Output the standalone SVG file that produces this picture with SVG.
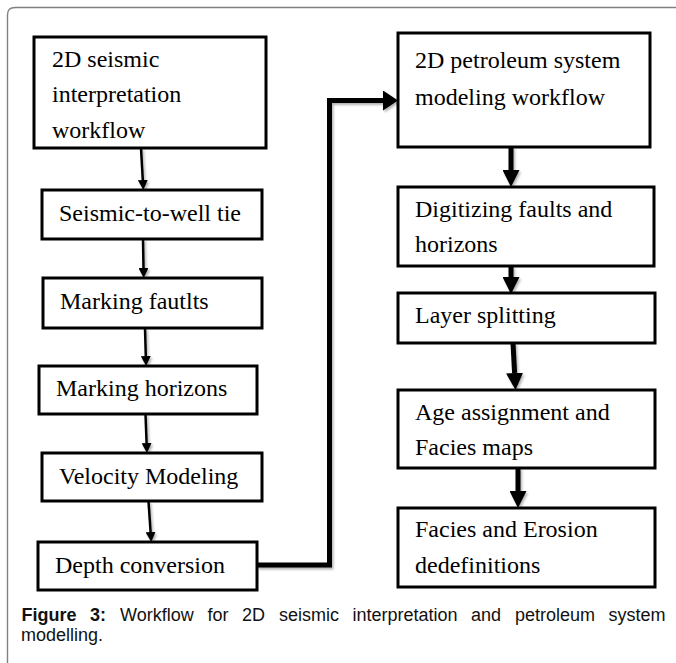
<svg xmlns="http://www.w3.org/2000/svg" width="676" height="663" viewBox="0 0 676 663">
<defs>
<style>
.box{fill:#fff;stroke:#000;stroke-width:3}
.lbl{font-family:"Liberation Serif","Times New Roman",serif;font-size:24px;fill:#000}
.cap{font-family:"Liberation Sans",Arial,sans-serif;font-size:18px;fill:#111}
.thin{fill:none;stroke:#000;stroke-width:2.5}
.thick{fill:none;stroke:#000;stroke-width:5}
</style>
<marker id="hThin" markerUnits="userSpaceOnUse" viewBox="0 0 10 10" markerWidth="10" markerHeight="10" refX="0" refY="5" orient="auto"><path d="M0,0 L10,5 L0,10 z" fill="#000"/></marker>
<marker id="hThick" markerUnits="userSpaceOnUse" viewBox="0 0 17 17" markerWidth="17" markerHeight="17" refX="0" refY="8.5" orient="auto"><path d="M0,0 L17,8.5 L0,17 z" fill="#000"/></marker>
<marker id="hMain" markerUnits="userSpaceOnUse" viewBox="0 0 15 20" markerWidth="15" markerHeight="20" refX="0" refY="10" orient="auto"><path d="M0,0 L15,10 L0,20 z" fill="#000"/></marker>
<filter id="sh" x="-20%" y="-20%" width="140%" height="140%"><feDropShadow dx="1.5" dy="2" stdDeviation="1.2" flood-color="#000" flood-opacity="0.3"/></filter>
</defs>
<rect width="676" height="663" fill="#fff"/>
<path d="M7.5,663 V15 Q7.5,7.5 15,7.5 H676" fill="none" stroke="#808080" stroke-width="1.4"/>

<g id="connectors" filter="url(#sh)">
<path class="thin" d="M141,148 L142.8,180" marker-end="url(#hThin)"/>
<path class="thin" d="M143,239 L143.5,268" marker-end="url(#hThin)"/>
<path class="thin" d="M145,328 L145.8,356" marker-end="url(#hThin)"/>
<path class="thin" d="M145.5,414 L146.6,443" marker-end="url(#hThin)"/>
<path class="thin" d="M148.5,501 L150.6,532" marker-end="url(#hThin)"/>
<path class="thick" d="M257,565 H329.5 V100.5 H383" marker-end="url(#hMain)"/>
<path class="thick" d="M511,147 V170" marker-end="url(#hThick)"/>
<path class="thick" d="M511,266 V277" marker-end="url(#hThick)"/>
<path class="thick" d="M513,343 L514.6,373" marker-end="url(#hThick)"/>
<path class="thick" d="M518,468 V491" marker-end="url(#hThick)"/>
</g>

<g id="n1"><rect class="box" x="34" y="37" width="232" height="111"/><text class="lbl" x="52" y="67">2D seismic</text><text class="lbl" x="52" y="102">interpretation</text><text class="lbl" x="52" y="138">workflow</text></g>
<g id="n2"><rect class="box" x="42" y="190" width="220" height="49"/><text class="lbl" x="59" y="221">Seismic-to-well tie</text></g>
<g id="n3"><rect class="box" x="43" y="278" width="219" height="50"/><text class="lbl" x="60" y="309">Marking fautlts</text></g>
<g id="n4"><rect class="box" x="39" y="366" width="218" height="48"/><text class="lbl" x="56" y="396">Marking horizons</text></g>
<g id="n5"><rect class="box" x="42" y="453" width="220" height="48"/><text class="lbl" x="59" y="484">Velocity Modeling</text></g>
<g id="n6"><rect class="box" x="38" y="542" width="219" height="48"/><text class="lbl" x="55" y="573">Depth conversion</text></g>

<g id="n7"><rect class="box" x="398" y="33" width="252" height="114"/><text class="lbl" x="415" y="68">2D petroleum system</text><text class="lbl" x="415" y="105">modeling workflow</text></g>
<g id="n8"><rect class="box" x="398" y="187" width="256" height="79"/><text class="lbl" x="415" y="217">Digitizing faults and</text><text class="lbl" x="415" y="252">horizons</text></g>
<g id="n9"><rect class="box" x="398" y="293" width="257" height="50"/><text class="lbl" x="415" y="323">Layer splitting</text></g>
<g id="n10"><rect class="box" x="398" y="390" width="257" height="78"/><text class="lbl" x="415" y="420">Age assignment and</text><text class="lbl" x="415" y="455">Facies maps</text></g>
<g id="n11"><rect class="box" x="398" y="508" width="257" height="79"/><text class="lbl" x="415" y="537">Facies and Erosion</text><text class="lbl" x="415" y="573">dedefinitions</text></g>

<g id="caption">
<text class="cap" y="621"><tspan x="21.5" font-weight="bold">Figure</tspan><tspan x="90" font-weight="bold">3:</tspan><tspan x="120">Workflow</tspan><tspan x="207.5">for</tspan><tspan x="242">2D</tspan><tspan x="279">seismic</tspan><tspan x="352.5">interpretation</tspan><tspan x="471">and</tspan><tspan x="515">petroleum</tspan><tspan x="608.5">system</tspan></text>
<text class="cap" x="21" y="641">modelling.</text>
</g>
</svg>
